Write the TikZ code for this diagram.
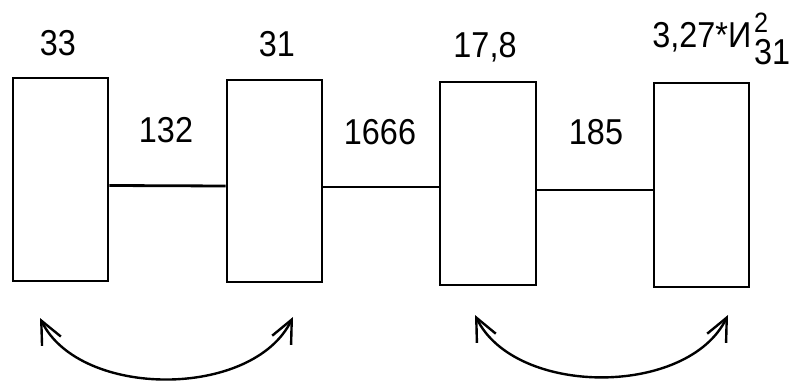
\documentclass[tikz,border=0pt]{standalone}
\usepackage{fontspec}
\setmainfont[FakeStretch=0.9]{Liberation Sans}
\usetikzlibrary{arrows.meta}
\begin{document}
\begin{tikzpicture}[x=1pt, y=-1pt, line width=2.8pt,
  block/.style={draw, minimum width=95pt, inner sep=0pt},
  lbl/.style={font=\fontsize{36}{38}\selectfont, inner sep=0pt, anchor=base},
  swap/.style={line width=2.4pt, {Straight Barb[length=23pt,width=21pt]}-{Straight Barb[length=23pt,width=21pt]}}]
\useasboundingbox (0,0) rectangle (790,382);
% blocks
\node[block, minimum height=203pt] (b1) at (60.5,179.5) {};
\node[block, minimum height=202pt] (b2) at (274.5,181) {};
\node[block, minimum height=203pt, minimum width=96pt] (b3) at (488,183.5) {};
\node[block, minimum height=204pt] (b4) at (701.5,185) {};
% links
\draw ([yshift=-6pt]b1.east) -- ([yshift=-5pt]b2.west);
\draw ([yshift=-6pt]b2.east) -- ([yshift=-3.5pt]b3.west);
\draw ([yshift=-6.5pt]b3.east) -- ([yshift=-5pt]b4.west);
% labels
\node[lbl] (t1) at (58,56) {33};
\node[lbl] (t2) at (277,57) {31};
\node[lbl] (t3) at (485,58) {17,8};
\node[lbl, anchor=base west] (t4) at (651,48) {3,27*И};
\node[lbl, anchor=base west, font=\fontsize{28}{30}\selectfont] (t4s) at ([yshift=15pt]t4.base east) {2};
\node[lbl, anchor=base west] (t4i) at ([yshift=-17pt]t4.base east) {31};
\node[lbl] (l12) at (166,143) {132};
\node[lbl] (l23) at (380,145) {1666};
\node[lbl] (l34) at (596,145) {185};
% exchange arrows
\coordinate (a1) at (40,318);
\coordinate (a2) at (293,317);
\coordinate (a3) at (475,315);
\coordinate (a4) at (728,315);
\draw[swap] (a1) .. controls (80,399) and (253,399) .. (a2);
\draw[swap] (a3) .. controls (515,397) and (688,397) .. (a4);
\end{tikzpicture}
\end{document}
